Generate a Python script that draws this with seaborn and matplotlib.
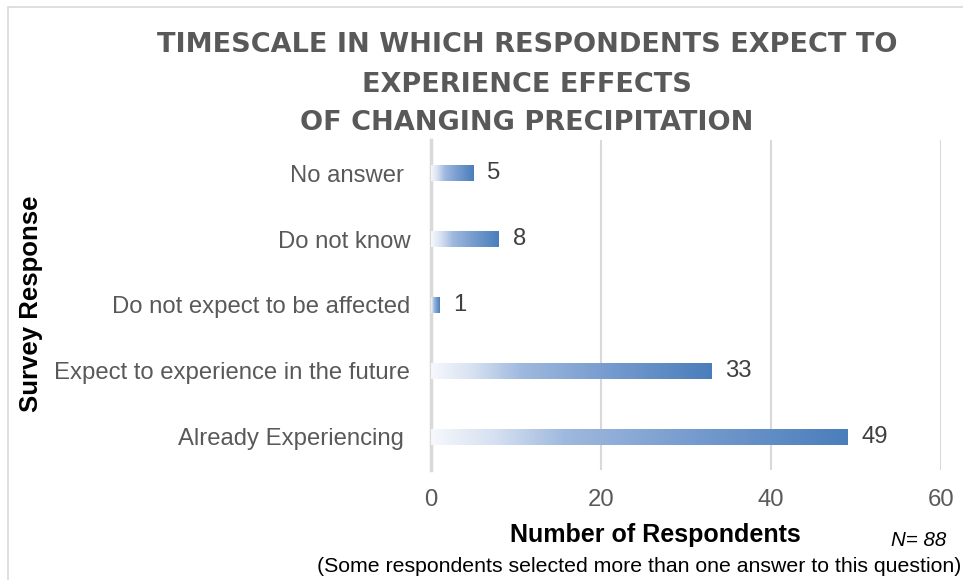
import matplotlib

matplotlib.use("Agg")

import matplotlib.pyplot as plt
import numpy as np
import pandas as pd
import seaborn as sns
from matplotlib.colors import LinearSegmentedColormap
from matplotlib.patches import Rectangle

# Survey data (top to bottom as shown)
responses = [
    "No answer ",
    "Do not know",
    "Do not expect to be affected",
    "Expect to experience in the future",
    "Already Experiencing ",
]
counts = [5, 8, 1, 33, 49]
x_ticks = [0, 20, 40, 60]

title_lines = [
    "TIMESCALE IN WHICH RESPONDENTS EXPECT TO",
    "EXPERIENCE EFFECTS",
    "OF CHANGING PRECIPITATION",
]

df = pd.DataFrame({"response": responses, "count": counts})

sns.set_theme(style="white")
plt.rcParams["font.family"] = ["Liberation Sans", "DejaVu Sans"]

W, H = 963, 580
fig = plt.figure(figsize=(W / 100, H / 100), dpi=100)

# axes placed in pixel terms of the reference
left, right, top, bottom = 431, 941, 140, 470
ax = fig.add_axes([left / W, 1 - bottom / H, (right - left) / W, (bottom - top) / H])

sns.barplot(data=df, x="count", y="response", orient="h", width=0.24,
            color="#4a7ebb", ax=ax, zorder=3)

ax.set_xlim(0, 60)
xlim, ylim = ax.get_xlim(), ax.get_ylim()

# white -> blue gradient fill on each bar, clipped to the bar shape
grad_cmap = LinearSegmentedColormap.from_list(
    "bar_grad",
    [(0.0, "#f6f8fc"), (0.15, "#d6e1f1"), (0.32, "#9fb9de"),
     (0.6, "#7a9ed0"), (1.0, "#4a7ebb")],
)
gradient = np.linspace(0, 1, 256).reshape(1, -1)
for patch in ax.patches:
    x0, y0 = patch.get_x(), patch.get_y()
    w, h = patch.get_width(), patch.get_height()
    patch.set_facecolor("none")
    patch.set_edgecolor("none")
    img = ax.imshow(gradient, cmap=grad_cmap, aspect="auto",
                    extent=[x0, x0 + w, y0 + h, y0], zorder=3,
                    interpolation="bicubic")
    img.set_clip_path(patch)
ax.set_xlim(xlim)
ax.set_ylim(ylim)

# value labels
for i, v in enumerate(counts):
    ax.annotate(str(v), xy=(v, i), xytext=(10, 0), textcoords="offset points",
                va="center", ha="left", fontsize=17.2, color="#404040")

ax.set_xticks(x_ticks)
ax.grid(axis="x", color="#d9d9d9", linewidth=1.5, zorder=0)
ax.grid(axis="y", visible=False)
for side in ["top", "right", "bottom"]:
    ax.spines[side].set_visible(False)
ax.spines["left"].set_color("#d9d9d9")
ax.spines["left"].set_linewidth(2.5)
ax.spines["left"].set_zorder(1)

ax.tick_params(axis="x", length=0, pad=14, labelsize=17.2, labelcolor="#595959")
ax.tick_params(axis="y", length=0, pad=15, labelsize=17.2, labelcolor="#595959")

ax.set_xlabel("Number of Respondents", fontsize=18, fontweight="bold", color="black")
ax.xaxis.set_label_coords((655 - left) / (right - left), (bottom - 535) / (bottom - top))
ax.xaxis.label.set_va("center")
ax.set_ylabel("Survey Response", fontsize=18.5, fontweight="bold", color="black")
ax.yaxis.set_label_coords((31 - left) / (right - left), (bottom - 304) / (bottom - top))
ax.yaxis.label.set_va("center")

# title, three centred lines
for line, y in zip(title_lines, [45, 85, 123]):
    fig.text(527 / W, 1 - y / H, line, ha="center", va="center",
             fontsize=19.5, fontweight="bold", color="#595959",
             family=["DejaVu Sans"])

fig.text(946 / W, 1 - 541 / H, "N= 88", ha="right", va="center",
         fontsize=14.8, style="italic", color="black")
fig.text(961 / W, 1 - 566 / H,
         "(Some respondents selected more than one answer to this question)",
         ha="right", va="center", fontsize=15.3, color="black")

# chart border (only left and top edges fall inside the picture)
fig.patches.append(Rectangle((8 / W, -0.1), 1.2, (1 - 7 / H) + 0.1,
                             transform=fig.transFigure, fill=False,
                             edgecolor="#d9d9d9", linewidth=1.2))

fig.savefig("out.png", dpi=100)
